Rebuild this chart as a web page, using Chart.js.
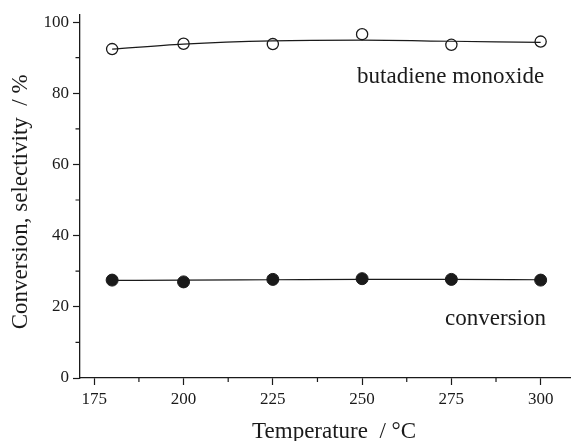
<!DOCTYPE html>
<html>
<head>
<meta charset="utf-8">
<script src="https://cdn.jsdelivr.net/npm/chart.js@4.4.1/dist/chart.umd.min.js"></script>
<style>
  html, body { margin: 0; padding: 0; background: #fff; }
  #wrap { width: 571px; height: 441px; }
</style>
</head>
<body>
<div id="wrap"><canvas id="convChart"></canvas></div>
<script>
// 温度と測定値
var temps = [180, 200, 225, 250, 275, 300];
var selectivity = [92.4, 93.9, 93.8, 96.6, 93.6, 94.5];
var selectivityFit = [92.4, 93.8, 94.7, 94.9, 94.6, 94.3];
var conversion = [27.5, 27.0, 27.7, 27.9, 27.7, 27.5];
var conversionFit = [27.4, 27.5, 27.6, 27.7, 27.7, 27.6];

var xTicks = [175, 200, 225, 250, 275, 300];
var xMinor = [187.5, 212.5, 237.5, 262.5, 287.5];
var yTicks = [0, 20, 40, 60, 80, 100];
var yMinor = [10, 30, 50, 70, 90];

var seriesLabels = [
  { text: "butadiene monoxide", x: 301, y: 84.6 },
  { text: "conversion", x: 301.5, y: 16.5 }
];

function pts(ys) {
  return temps.map(function(t, i) { return { x: t, y: ys[i] }; });
}

var serif = "'Liberation Serif', 'DejaVu Serif', serif";
var ink = "#1a1a1a";

// 補助目盛りとラベル
var extras = {
  id: "extras",
  afterDraw: function(chart) {
    var c = chart.ctx, a = chart.chartArea;
    var xs = chart.scales.x, ys = chart.scales.y;
    c.save();
    c.strokeStyle = ink;
    c.lineWidth = 1.2;
    c.beginPath();
    xMinor.forEach(function(v) {
      var px = xs.getPixelForValue(v);
      c.moveTo(px, a.bottom);
      c.lineTo(px, a.bottom + 4);
    });
    yMinor.forEach(function(v) {
      var py = ys.getPixelForValue(v);
      c.moveTo(a.left, py);
      c.lineTo(a.left - 4.5, py);
    });
    c.stroke();
    c.fillStyle = ink;
    c.font = "23px " + serif;
    c.textAlign = "right";
    c.textBaseline = "middle";
    seriesLabels.forEach(function(l) {
      c.fillText(l.text, xs.getPixelForValue(l.x), ys.getPixelForValue(l.y));
    });
    c.restore();
  }
};

var ctx = document.getElementById("convChart").getContext("2d");
var chart = new Chart(ctx, {
  type: "line",
  data: {
    datasets: [
      {
        data: pts(selectivityFit), borderColor: ink, borderWidth: 1.2,
        pointRadius: 0, tension: 0.4, cubicInterpolationMode: "monotone", fill: false
      },
      {
        data: pts(conversionFit), borderColor: ink, borderWidth: 1.2,
        pointRadius: 0, tension: 0.4, cubicInterpolationMode: "monotone", fill: false
      },
      {
        data: pts(selectivity), showLine: false, pointRadius: 5.6,
        pointBackgroundColor: "#fff", pointBorderColor: ink, pointBorderWidth: 1.3
      },
      {
        data: pts(conversion), showLine: false, pointRadius: 6,
        pointBackgroundColor: ink, pointBorderColor: ink, pointBorderWidth: 1
      }
    ]
  },
  options: {
    responsive: true,
    maintainAspectRatio: false,
    animation: false,
    layout: { autoPadding: false, padding: { top: 13, right: 0, left: 0, bottom: 0 } },
    plugins: { legend: { display: false }, tooltip: { enabled: false } },
    scales: {
      x: {
        type: "linear",
        min: 171,
        max: 308.5,
        afterBuildTicks: function(s) { s.ticks = xTicks.map(function(v) { return { value: v }; }); },
        afterFit: function(s) { s.height = 63; s.paddingRight = 0; s.paddingLeft = 0; },
        grid: { drawOnChartArea: false, drawTicks: true, tickLength: 7, tickColor: ink, tickWidth: 1.2 },
        border: { color: ink, width: 1.3 },
        ticks: { color: ink, padding: 4, maxRotation: 0, font: { family: serif, size: 17 } },
        title: {
          display: true, text: "   Temperature  / °C", color: ink,
          font: { family: serif, size: 23, lineHeight: 0.8 }, padding: 0
        }
      },
      y: {
        min: 0,
        max: 102.2,
        afterBuildTicks: function(s) { s.ticks = yTicks.map(function(v) { return { value: v }; }); },
        afterFit: function(s) { s.width = 80; },
        grid: { drawOnChartArea: false, drawTicks: true, tickLength: 7, tickColor: ink, tickWidth: 1.2 },
        border: { color: ink, width: 1.3 },
        ticks: { color: ink, padding: 4, font: { family: serif, size: 17 } },
        title: {
          display: true, text: "Conversion, selectivity  / %  ", color: ink,
          font: { family: serif, size: 23, lineHeight: 1.2 }, padding: { top: 7, bottom: 0 }
        }
      }
    }
  },
  plugins: [extras]
});
</script>
</body>
</html>
